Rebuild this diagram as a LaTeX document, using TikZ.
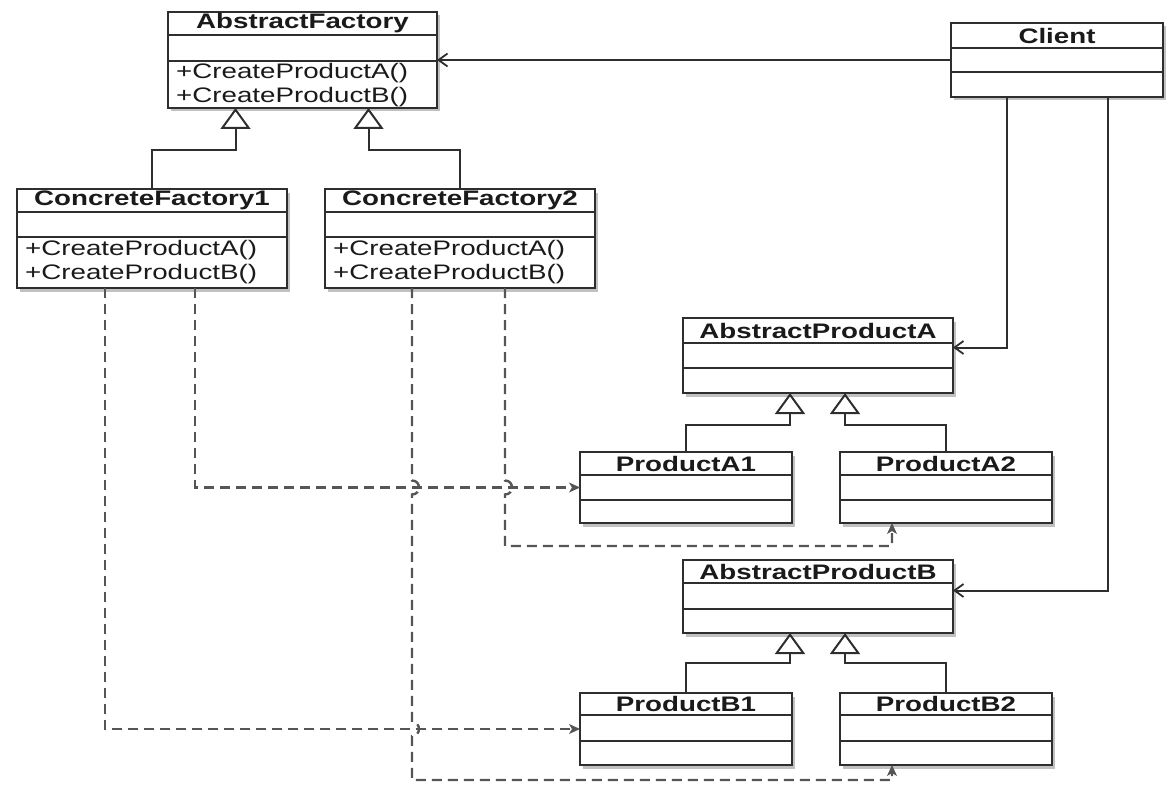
\documentclass[tikz,border=0pt]{standalone}
\usepackage{fontspec}
\newfontfamily\umlsans[FakeStretch=1.32]{Liberation Sans}
\usetikzlibrary{arrows.meta,shadows,calc}
\definecolor{ink}{HTML}{2E2E2E}
\definecolor{dashink}{HTML}{555555}
\definecolor{txt}{HTML}{1A1A1A}

% class box: name, x, y, width, height, first rule, second rule, title
\newcommand\umlclass[8]{%
  \node[clsbox, minimum width=#4pt, minimum height=#5pt, anchor=north west] (#1) at (#2,#3) {};
  \draw[sepline] ([yshift=-#6pt]#1.north west) -- ([yshift=-#6pt]#1.north east);
  \draw[sepline] ([yshift=-#7pt]#1.north west) -- ([yshift=-#7pt]#1.north east);
  \node[clstitle] (#1-title) at ([yshift=-0.5*#6pt]#1.north) {#8};
}
% two operation lines inside a class box
\newcommand\umlops[3]{%
  \node[meth] (#1-op1) at ([xshift=6pt, yshift=-61pt]#1.north west) {#2};
  \node[meth] (#1-op2) at ([xshift=6pt, yshift=-85pt]#1.north west) {#3};
}

\begin{document}
\begin{tikzpicture}[x=1pt, y=-1pt,
  clsbox/.style={draw=ink, line width=2.4pt, fill=white, inner sep=0pt, outer sep=0pt,
    drop shadow={shadow xshift=3pt, shadow yshift=-3.5pt, opacity=0.35, fill=black!70}},
  sepline/.style={draw=ink, line width=1.9pt},
  clstitle/.style={font=\umlsans\bfseries\fontsize{21}{25}\selectfont, text=txt, inner sep=0pt},
  meth/.style={font=\umlsans\fontsize{21}{25}\selectfont, text=txt, anchor=west, inner sep=2pt},
  gen/.style={draw=ink, line width=2pt, -{Triangle[open, length=21pt, width=30pt, fill=white, line width=2pt]}},
  assoc/.style={draw=ink, line width=2pt, -{Straight Barb[length=9pt, width=13pt, line width=1.8pt]}},
  dep/.style={draw=dashink, line width=2.4pt, dash pattern=on 10pt off 6pt,
    -{Stealth[length=11pt, width=10pt, inset=3pt, line width=1pt]}},
]
\useasboundingbox (0,0) rectangle (1170,789);

% factories
\umlclass{af}{168}{12}{269}{96}{23}{49}{AbstractFactory}
\umlops{af}{+CreateProductA()}{+CreateProductB()}
\umlclass{cfa}{17}{189}{270}{99}{23}{48}{ConcreteFactory1}
\umlops{cfa}{+CreateProductA()}{+CreateProductB()}
\umlclass{cfb}{325}{189}{270}{99}{23}{48}{ConcreteFactory2}
\umlops{cfb}{+CreateProductA()}{+CreateProductB()}

% client
\umlclass{client}{951}{23}{212}{74}{25}{49}{Client}

% product A family
\umlclass{apa}{683}{318}{270}{75}{25}{50}{AbstractProductA}
\umlclass{pa1}{580}{452}{212}{71}{23}{48}{ProductA1}
\umlclass{pa2}{840}{452}{212}{71}{23}{48}{ProductA2}

% product B family
\umlclass{apb}{683}{560}{270}{73}{23}{49}{AbstractProductB}
\umlclass{pb1}{580}{693}{212}{72}{22}{48}{ProductB1}
\umlclass{pb2}{840}{693}{212}{72}{22}{48}{ProductB2}

% generalizations
\draw[gen] (cfa.north) -- ++(0,-39) -| ([xshift=-67pt]af.south);
\draw[gen] (cfb.north) -- ++(0,-39) -| ([xshift=66pt]af.south);
\draw[gen] (pa1.north) -- ++(0,-27) -| ([xshift=-28pt]apa.south);
\draw[gen] (pa2.north) -- ++(0,-27) -| ([xshift=27pt]apa.south);
\draw[gen] (pb1.north) -- ++(0,-30) -| ([xshift=-28pt]apb.south);
\draw[gen] (pb2.north) -- ++(0,-30) -| ([xshift=27pt]apb.south);

% client associations
\draw[assoc] (client.west) -- (af.east);
\draw[assoc] ([xshift=-50pt]client.south) |- ([yshift=8pt]apa.east);
\draw[assoc] ([xshift=51pt]client.south) |- ([yshift=6pt]apb.east);

% creation dependencies
\coordinate (lowA) at (0,546);
\coordinate (lowB) at (0,780);
\coordinate (v1) at ([xshift=-47pt]cfa.south);
\coordinate (v2) at ([xshift=43pt]cfa.south);
\coordinate (v3) at ([xshift=-48pt]cfb.south);
\coordinate (v4) at ([xshift=45pt]cfb.south);

\draw[dep] (v1) |- (pb1.west);
\draw[dep] (v2) |- (pa1.west);
\draw[dep] (v3)
  -- ($(v3 |- pa1.west)+(0,-7)$) .. controls +(9.3,0) and +(9.3,0) .. ($(v3 |- pa1.west)+(0,7)$)
  -- ($(v3 |- pb1.west)+(0,-7)$) .. controls +(9.3,0) and +(9.3,0) .. ($(v3 |- pb1.west)+(0,7)$)
  -- (v3 |- lowB) -| ([xshift=-54pt]pb2.south);
\draw[dep] (v4)
  -- ($(v4 |- pa1.west)+(0,-7)$) .. controls +(9.3,0) and +(9.3,0) .. ($(v4 |- pa1.west)+(0,7)$)
  -- (v4 |- lowA) -| ([xshift=-54pt]pa2.south);
\end{tikzpicture}
\end{document}
